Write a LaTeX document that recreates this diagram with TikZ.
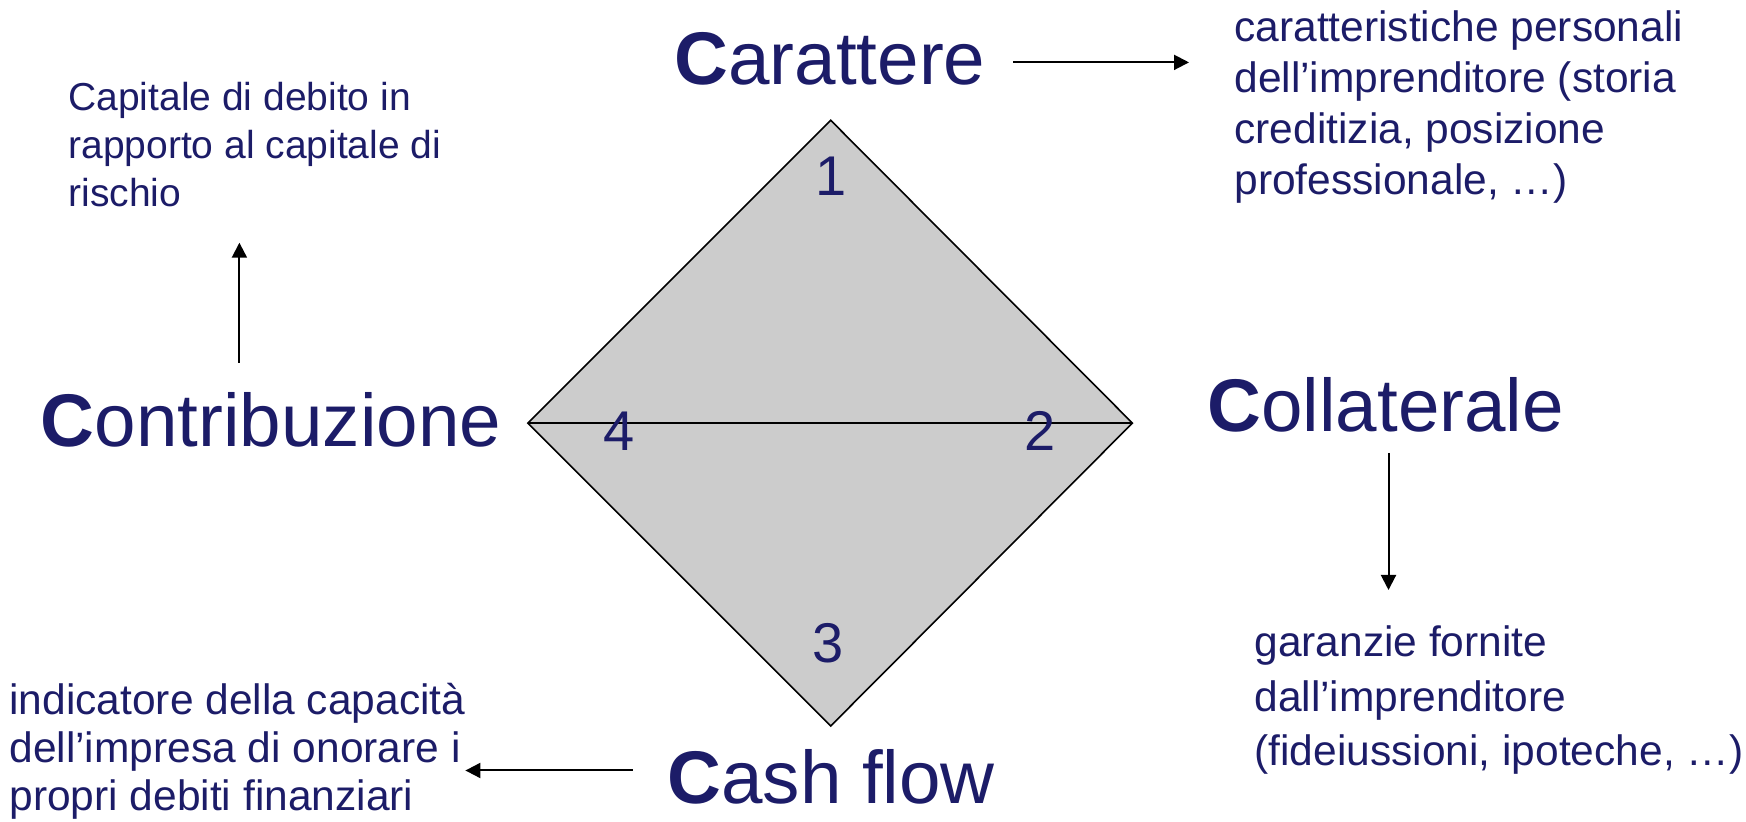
\documentclass[tikz,border=0pt]{standalone}
\usepackage{fontspec}
\setmainfont{Liberation Sans}
\usetikzlibrary{arrows.meta}
\definecolor{navy}{RGB}{28,28,104}
\definecolor{dgray}{RGB}{204,204,204}
\begin{document}
\begin{tikzpicture}[x=0.5pt,y=-0.5pt,
  big/.style={inner sep=0pt,anchor=base west,text=navy,font=\fontsize{37.3}{44}\selectfont},
  small/.style={inner sep=0pt,anchor=base west,text=navy,align=left},
  num/.style={inner sep=0pt,anchor=base,text=navy,font=\fontsize{28}{33}\selectfont},
  arr/.style={line width=1pt,-{Triangle[length=7.5pt,width=7.5pt]}}]
\useasboundingbox (0,0) rectangle (1746,822);
% diamond
\coordinate (dT) at (830.7,120.3);
\coordinate (dR) at (1132.4,423.1);
\coordinate (dB) at (830.7,726.0);
\coordinate (dL) at (527.8,423.1);
\filldraw[fill=dgray,draw=black,line width=0.8pt,line join=miter] (dT) -- (dR) -- (dB) -- (dL) -- cycle;
\draw[line width=0.8pt] (dL) -- (dR);
% numbers
\node[num] (n1) at (830.7,196) {1};
\node[num] (n2) at (1040,451) {2};
\node[num] (n3) at (828.5,662.5) {3};
\node[num] (n4) at (619,451) {4};
% big labels
\node[big] (car) at (674,84.6) {\textbf{C}arattere};
\node[big] (con) at (40.5,446.5) {\textbf{C}ontribuzione};
\node[big] (col) at (1207,432) {\textbf{C}ollaterale};
\node[big] (cas) at (667,804) {\textbf{C}ash flow};
% descriptions (anchor = baseline of the last line)
\node[small,font=\fontsize{19.5}{24.2}\selectfont] (tcon) at (68,207) {Capitale di debito in\\rapporto al capitale di\\rischio};
\node[small,font=\fontsize{21.25}{25.5}\selectfont] (tcar) at (1234,195) {caratteristiche personali\\dell’imprenditore (storia\\creditizia, posizione\\professionale, …)};
\node[small,font=\fontsize{21.25}{27.3}\selectfont] (tcol) at (1254,766) {garanzie fornite\\dall’imprenditore\\(fideiussioni, ipoteche, …)};
\node[small,font=\fontsize{21.25}{24}\selectfont] (tcas) at (9,810.6) {indicatore della capacità\\dell’impresa di onorare i\\propri debiti finanziari};
% arrows
\coordinate (a1s) at (1013,62.4);
\coordinate (a1e) at (1189,62.4);
\coordinate (a2s) at (239.4,363);
\coordinate (a2e) at (239.4,242.7);
\coordinate (a3s) at (1388.5,453);
\coordinate (a3e) at (1388.5,590);
\coordinate (a4s) at (632.5,770.5);
\coordinate (a4e) at (465.4,770.5);
\draw[arr] (a1s) -- (a1e);
\draw[arr] (a2s) -- (a2e);
\draw[arr] (a3s) -- (a3e);
\draw[arr] (a4s) -- (a4e);
\end{tikzpicture}
\end{document}
